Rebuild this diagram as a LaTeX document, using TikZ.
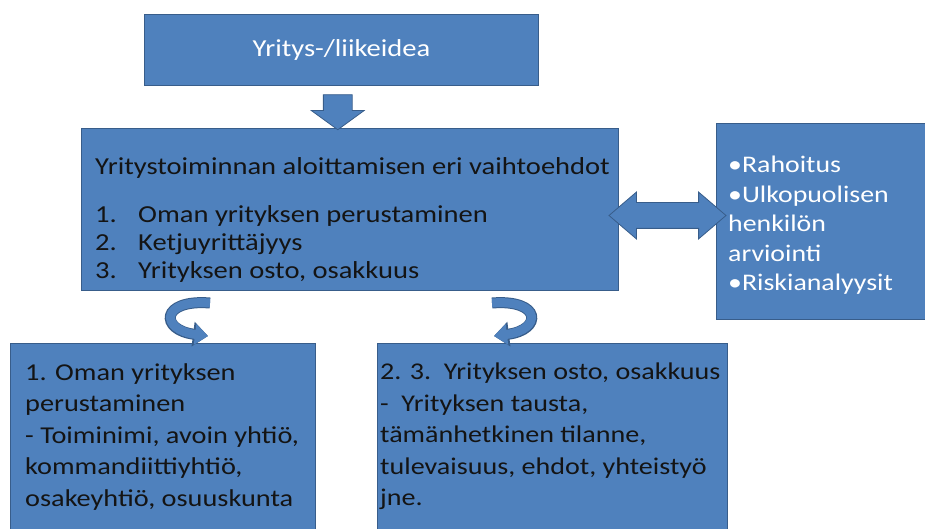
\documentclass[tikz,border=0pt]{standalone}
\usepackage{fontspec}
\setmainfont{Carlito}[FakeStretch=1.17]
\usetikzlibrary{arrows.meta,shapes.arrows,calc}
\definecolor{boxblue}{HTML}{4F81BD}
\definecolor{boxedge}{HTML}{385D8A}
\definecolor{textdark}{HTML}{141414}

\begin{document}
\begin{tikzpicture}[x=1pt,y=-1pt,
  box/.style={draw=boxedge,fill=boxblue,line width=1pt,anchor=north west,inner sep=0pt},
  whitetext/.style={text=white,align=left,anchor=north west,inner sep=0pt},
  darktext/.style={text=textdark,align=left,anchor=north west,inner sep=0pt},
  blockarrow/.style={fill=boxblue,draw=boxedge,line width=0.8pt},
  curlarrow/.style={draw=boxblue,line width=9pt,-{Triangle[length=13pt,width=20pt]},
    preaction={draw=boxedge,line width=11pt,-{Triangle[length=15pt,width=24pt]}}}]
\useasboundingbox (0,0) rectangle (925,529);

% boxes
\node[box,minimum width=394pt,minimum height=71pt] (idea) at (144,14) {};
\node[box,minimum width=537pt,minimum height=162pt] (options) at (81,128) {};
\node[box,minimum width=209pt,minimum height=196pt] (risks) at (716,123) {};
\node[box,minimum width=305pt,minimum height=200pt] (newfirm) at (10,343) {};
\node[box,minimum width=350pt,minimum height=200pt] (buyfirm) at (377,343) {};

% texts
\node[text=white,inner sep=0pt,font=\fontsize{24.4}{29}\selectfont] (ideatext) at (idea.center) {Yritys-/liikeidea};
\node[darktext,font=\fontsize{24.4}{28}\selectfont] (optionstext) at ($(options.north west)+(14,29)$)
  {Yritystoiminnan aloittamisen eri vaihtoehdot\\[20pt]
   \makebox[43pt][l]{1.}Oman yrityksen perustaminen\\
   \makebox[43pt][l]{2.}Ketjuyrittäjyys\\
   \makebox[43pt][l]{3.}Yrityksen osto, osakkuus};
\node[whitetext,font=\fontsize{23.8}{29.5}\selectfont] (riskstext) at ($(risks.north west)+(12,33)$)
  {•Rahoitus\\ •Ulkopuolisen\\ henkilön\\ arviointi\\ •Riskianalyysit};
\node[darktext,font=\fontsize{24.2}{31.5}\selectfont] (newfirmtext) at ($(newfirm.north west)+(15,20)$)
  {1. Oman yrityksen\\ perustaminen\\ - Toiminimi, avoin yhtiö,\\ kommandiittiyhtiö,\\ osakeyhtiö, osuuskunta};
\node[darktext,font=\fontsize{24}{31.5}\selectfont] (buyfirmtext) at ($(buyfirm.north west)+(3,20)$)
  {2. 3.\ \ Yrityksen osto, osakkuus\\ -\ \ Yrityksen tausta,\\ tämänhetkinen tilanne,\\ tulevaisuus, ehdot, yhteistyö\\ jne.};

% block arrows
\node[blockarrow,single arrow,shape border rotate=270,inner xsep=14pt,inner ysep=0pt,
  minimum height=35pt,minimum width=52pt,single arrow head extend=12pt,single arrow tip angle=108]
  (down) at ($(idea.south)!0.5!(options.north)+(-8,0)$) {};
\node[blockarrow,double arrow,inner xsep=0pt,inner ysep=12.5pt,minimum height=117pt,minimum width=46pt,
  double arrow head extend=10.5pt,double arrow tip angle=81] (link) at ($(options.east)!0.5!(risks.west)$) {};

% curled arrows
\coordinate (leftstart) at ($(options.south west)+(129,12)$);
\coordinate (leftend) at ($(newfirm.north west)+(198,-7)$);
\coordinate (rightstart) at ($(options.south west)+(411,12)$);
\coordinate (rightend) at ($(buyfirm.north west)+(117,-7)$);
\draw[curlarrow] (leftstart) .. controls +(-50,-4) and +(-48,-6) .. (leftend);
\draw[curlarrow] (rightstart) .. controls +(50,-4) and +(48,-6) .. (rightend);
\end{tikzpicture}
\end{document}
